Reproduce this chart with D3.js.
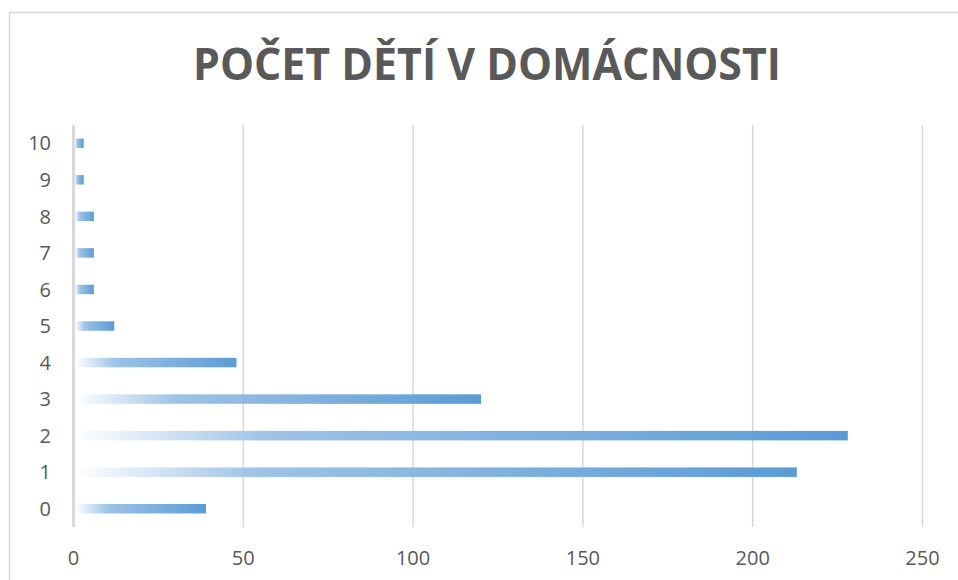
<!DOCTYPE html>
<html>
<head>
<meta charset="utf-8">
<script src="https://cdnjs.cloudflare.com/ajax/libs/d3/7.8.5/d3.min.js"></script>
<style>
  body { margin: 0; background: #fff; }
  svg { display: block; }
</style>
</head>
<body>
<div id="viz"></div>
<script>
// data
var titleText = "POČET DĚTÍ V DOMÁCNOSTI";
var categories = ["0", "1", "2", "3", "4", "5", "6", "7", "8", "9", "10"];
var counts = [39, 213, 228, 120, 48, 12, 6, 6, 6, 3, 3];
var xTicks = [0, 50, 100, 150, 200, 250];

var width = 958, height = 580;
var textColor = "#595959";
var font = "'Open Sans', sans-serif";

var svg = d3.select("#viz").append("svg")
  .attr("width", width)
  .attr("height", height);

// gradient fill like the excel bars, white on the left to blue on the right
var grad = svg.append("defs").append("linearGradient")
  .attr("id", "barGrad")
  .attr("x1", "0").attr("x2", "1").attr("y1", "0").attr("y2", "0");
grad.append("stop").attr("offset", "0%").attr("stop-color", "#ffffff");
grad.append("stop").attr("offset", "25%").attr("stop-color", "#9dc3e6");
grad.append("stop").attr("offset", "100%").attr("stop-color", "#5b9bd5");

// chart frame
svg.append("rect")
  .attr("x", 9.5).attr("y", 12.5)
  .attr("width", 970).attr("height", 600)
  .attr("fill", "none")
  .attr("stroke", "#d9d9d9")
  .attr("stroke-width", 1.5);

svg.append("text")
  .attr("x", 487).attr("y", 80)
  .attr("text-anchor", "middle")
  .attr("textLength", 588)
  .attr("lengthAdjust", "spacingAndGlyphs")
  .style("font-family", font)
  .style("font-weight", 700)
  .style("font-size", "44px")
  .attr("fill", textColor)
  .text(titleText);

var x = d3.scaleLinear().domain([0, 250]).range([73.5, 922.5]);
var y = d3.scaleBand()
  .domain(categories.slice().reverse())
  .range([125, 527])
  .paddingInner(0.74)
  .paddingOuter(0.37);

// gridlines
svg.append("g")
  .selectAll("line")
  .data(xTicks.slice(1))
  .enter().append("line")
  .attr("x1", d => x(d)).attr("x2", d => x(d))
  .attr("y1", 125).attr("y2", 527)
  .attr("stroke", "#d9d9d9")
  .attr("stroke-width", 1.5);

// bars
svg.append("g")
  .selectAll("rect")
  .data(categories)
  .enter().append("rect")
  .attr("x", x(0) + 1.5)
  .attr("y", d => y(d))
  .attr("width", (d, i) => x(counts[i]) - x(0) - 1.5)
  .attr("height", y.bandwidth())
  .attr("fill", "url(#barGrad)");

// vertical axis line at zero
svg.append("line")
  .attr("x1", x(0)).attr("x2", x(0))
  .attr("y1", 125).attr("y2", 527)
  .attr("stroke", "#d9d9d9")
  .attr("stroke-width", 3);

// category labels
svg.append("g")
  .selectAll("text")
  .data(categories)
  .enter().append("text")
  .attr("x", 51)
  .attr("y", d => y(d) + y.bandwidth() / 2)
  .attr("dy", "0.36em")
  .attr("text-anchor", "end")
  .style("font-family", font)
  .style("font-size", "20px")
  .attr("fill", textColor)
  .text(d => d);

// value axis labels
svg.append("g")
  .selectAll("text")
  .data(xTicks)
  .enter().append("text")
  .attr("x", d => x(d))
  .attr("y", 565)
  .attr("text-anchor", "middle")
  .style("font-family", font)
  .style("font-size", "20px")
  .attr("fill", textColor)
  .text(d => d);
</script>
</body>
</html>
